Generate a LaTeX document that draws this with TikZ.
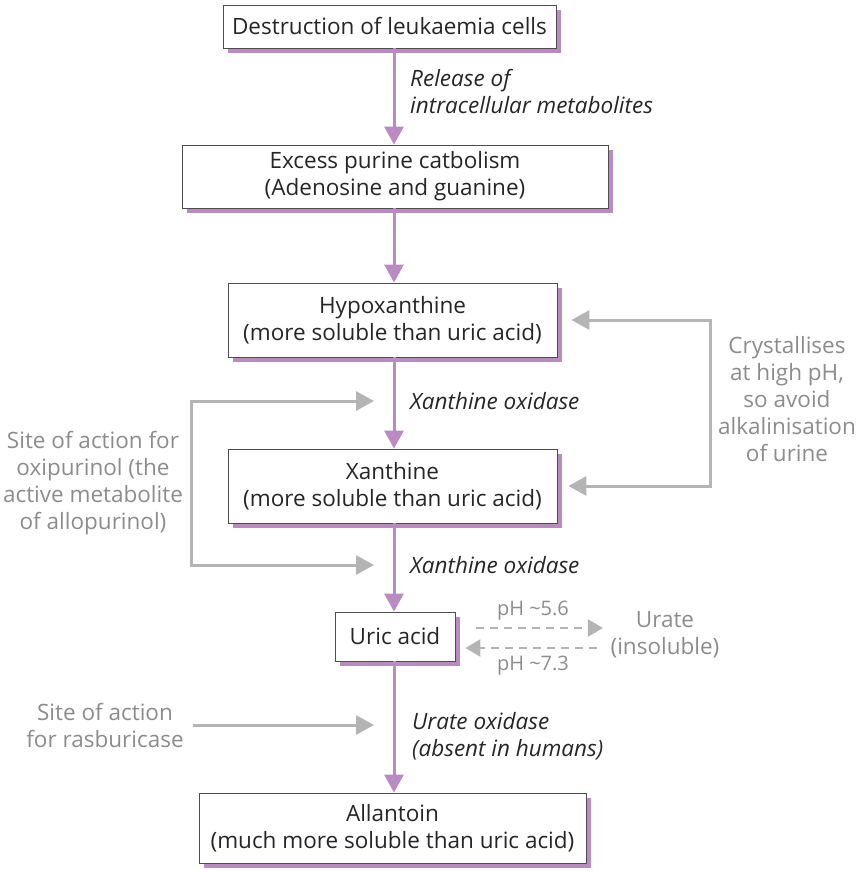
\documentclass[tikz,border=0pt]{standalone}
\usepackage{fontspec}
\setmainfont{Open Sans}
\usetikzlibrary{arrows.meta, shadows}
\definecolor{lilac}{HTML}{B98BC2}
\definecolor{greyline}{HTML}{B4B4B4}
\definecolor{greytext}{HTML}{8C8C8C}

\begin{document}
\begin{tikzpicture}[
    x=1pt, y=-1pt,
    >={Triangle[length=18pt, width=19pt]},
    every node/.style={font=\fontsize{22.5}{27}\selectfont, text=black!85},
    box/.style={rectangle, draw=black!70, line width=0.8pt, fill=white, align=center,
                drop shadow={fill=lilac, opacity=1, shadow xshift=5pt, shadow yshift=-5pt}},
    note/.style={align=left, font=\fontsize{22.5}{27}\selectfont\itshape, inner sep=0pt},
    side/.style={align=center, text=greytext, inner sep=0pt},
    flow/.style={->, lilac, line width=3pt},
    hint/.style={greyline, line width=3pt},
    phline/.style={-{Triangle[length=15pt, width=17pt]}, greyline, line width=2.5pt,
                   dash pattern=on 8pt off 6pt}
]
    \useasboundingbox (0,0) rectangle (855,872);

    \node[box, minimum width=333pt, minimum height=43pt] (cells)  at (389.5,26.5) {Destruction of leukaemia cells};
    \node[box, minimum width=426pt, minimum height=63pt] (purine) at (395,176.5)  {Excess purine catbolism\\(Adenosine and guanine)};
    \node[box, minimum width=329pt, minimum height=74pt] (hypo)   at (392.5,320)  {Hypoxanthine\\(more soluble than uric acid)};
    \node[box, minimum width=329pt, minimum height=74pt] (xan)    at (392.5,486)  {Xanthine\\(more soluble than uric acid)};
    \node[box, minimum width=120pt, minimum height=49pt] (uric)   at (395,636.5)  {Uric acid};
    \node[box, minimum width=387pt, minimum height=70pt] (allan)  at (392.5,828)  {Allantoin\\(much more soluble than uric acid)};

    \node[note, anchor=west] (release) at (410,91.5) {Release of\\intracellular metabolites};
    \node[note, anchor=west] (xox1)    at (410,401)  {Xanthine oxidase};
    \node[note, anchor=west] (xox2)    at (410,565)  {Xanthine oxidase};
    \node[note, anchor=west] (urox)    at (412,736)  {Urate oxidase\\(absent in humans)};

    \node[side] (cryst) at (787,399) {Crystallises\\at high pH,\\so avoid\\alkalinisation\\of urine};
    \node[side] (oxip)  at (93,483)  {Site of action for\\oxipurinol (the\\active metabolite\\of allopurinol)};
    \node[side] (rasb)  at (105,725) {Site of action\\for rasburicase};
    \node[side] (urate) at (665,635) {Urate\\(insoluble)};
    \node[side, font=\fontsize{20}{24}\selectfont] (ph56) at (533,611) {pH \textasciitilde5.6};
    \node[side, font=\fontsize{20}{24}\selectfont] (ph73) at (533,666) {pH \textasciitilde7.3};

    \coordinate (axis) at (394,0);
    \coordinate (lbar) at (191,0);
    \coordinate (rbar) at (710,0);
    \coordinate (tip)  at (374,0);

    \draw[flow] (cells.south -| axis)  -- (purine.north -| axis);
    \draw[flow] (purine.south -| axis) -- (hypo.north -| axis);
    \draw[flow] (hypo.south -| axis)   -- (xan.north -| axis);
    \draw[flow] (xan.south -| axis)    -- (uric.north -| axis);
    \draw[flow] (uric.south -| axis)   -- (allan.north -| axis);

    \draw[hint, <->, shorten <=14pt, shorten >=11pt]
        (hypo.east) -- (hypo.east -| rbar) -- (xan.east -| rbar) -- (xan.east);
    \draw[hint, <->] (xox1.west -| tip) -- (xox1.west -| lbar) -- (xox2.west -| lbar) -- (xox2.west -| tip);
    \draw[hint, ->] ([xshift=9.5pt]rasb.east) -- (rasb.east -| tip);

    \draw[phline] ([shift={(21,-8.5)}]uric.east) -- ([shift={(-7.5,-7)}]urate.west);
    \draw[phline] ([shift={(-13.5,13)}]urate.west) -- ([shift={(10,11.5)}]uric.east);
\end{tikzpicture}
\end{document}
